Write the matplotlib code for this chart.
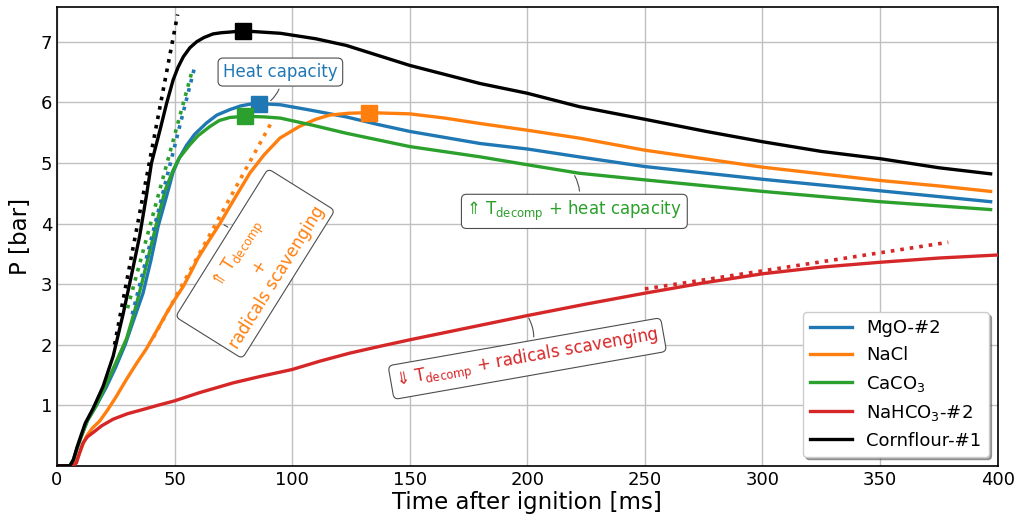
import matplotlib
matplotlib.use("Agg")
import matplotlib.pyplot as plt

# -------------------------------
# DATA
# -------------------------------
t_mgo = [0, 5.5, 7, 8.5, 10, 13, 16.8, 21, 25, 29, 33, 36.6, 40, 43, 46.6, 49.4, 52, 55.1, 58.5,
         63.6, 68, 73.5, 78, 82, 86, 95, 108, 123, 137, 150, 180, 200, 222, 250, 300, 350, 397]
p_mgo = [0, 0, 0.1, 0.28, 0.45, 0.75, 1.0, 1.3, 1.63, 2.0, 2.45, 2.85, 3.4, 3.95, 4.45, 4.85, 5.08, 5.29, 5.47,
         5.66, 5.79, 5.88, 5.94, 5.97, 5.98, 5.96, 5.87, 5.76, 5.63, 5.52, 5.32, 5.23, 5.10, 4.94, 4.73, 4.54,
         4.36]

t_nacl = [0, 6, 7.5, 9, 11, 12.6, 15, 18.2, 21.5, 25, 29.6, 34, 38, 43, 46.6, 50, 53.7, 57, 60, 64, 69.3,
          73.5, 77.8, 82, 88, 94.8, 103, 110, 116, 124, 132.7, 150, 165, 180, 200, 222, 250, 275, 300,
          325, 350, 375, 397]
p_nacl = [0, 0, 0.05, 0.15, 0.35, 0.49, 0.62, 0.74, 0.92, 1.13, 1.43, 1.70, 1.93, 2.27, 2.52, 2.74, 2.96, 3.2,
          3.43, 3.68, 4.0, 4.28, 4.56, 4.83, 5.13, 5.41, 5.6, 5.72, 5.79, 5.82, 5.83, 5.81, 5.74, 5.65, 5.54,
          5.41, 5.21, 5.07, 4.93, 4.82, 4.71, 4.62, 4.53]

t_caco3 = [0, 5.5, 7, 8.5, 10, 13, 16.8, 21, 25, 29.6, 33, 36, 39.5, 43, 46, 49.4, 52, 56.5, 60, 65,
           69, 73.5, 79.9, 88, 95, 102, 109, 123, 150, 180, 200, 222, 250, 300, 350, 397]
p_caco3 = [0, 0, 0.1, 0.28, 0.45, 0.75, 1.0, 1.35, 1.7, 2.1, 2.55, 3.0, 3.55, 4.1, 4.55, 4.88, 5.08, 5.3,
           5.45, 5.6, 5.7, 5.75, 5.77, 5.76, 5.74, 5.68, 5.62, 5.49, 5.27, 5.10, 4.97, 4.83, 4.72, 4.53,
           4.36, 4.23]

t_nahco3 = [0, 7, 8.3, 9.5, 11.1, 13, 15.4, 19, 23.9, 30, 36.6, 43, 49.8, 60.8, 75, 87, 100, 112, 124.5,
            137, 150, 175, 200, 225, 250, 275, 300, 325, 350, 375, 400]
p_nahco3 = [0, 0, 0.05, 0.2, 0.38, 0.48, 0.55, 0.66, 0.77, 0.86, 0.93, 1.0, 1.07, 1.21, 1.37, 1.48, 1.59,
            1.73, 1.86, 1.97, 2.08, 2.28, 2.48, 2.67, 2.85, 3.02, 3.17, 3.28, 3.36, 3.43, 3.48]

t_corn = [0, 5.5, 7, 8.5, 9.7, 12, 15.4, 19.6, 23.9, 28.1, 31.7, 35.2, 38, 40.2, 43.8, 46.6, 49.4, 51.5,
          53.7, 56.5, 59.4, 62.5, 66.4, 70, 73.5, 79, 87, 95, 110, 123, 150, 180, 200, 222, 250, 276, 300,
          325, 350, 375, 397]
p_corn = [0, 0, 0.1, 0.3, 0.44, 0.7, 0.95, 1.31, 1.81, 2.5, 3.15, 3.8, 4.45, 5.0, 5.54, 5.98, 6.37, 6.58,
          6.75, 6.9, 7.0, 7.07, 7.13, 7.15, 7.16, 7.18, 7.16, 7.14, 7.05, 6.94, 6.61, 6.31, 6.15, 5.93, 5.72,
          5.52, 5.35, 5.19, 5.07, 4.92, 4.82]

# peak markers (t, P)
peak_mgo = (86, 5.98)
peak_nacl = (132.7, 5.83)
peak_caco3 = (79.9, 5.77)
peak_corn = (79, 7.18)

# dotted tangent lines (start, end)
tan_mgo = ([32, 58.6], [2.5, 6.59])
tan_nacl = ([41, 90.8], [2.12, 5.64])
tan_caco3 = ([30, 57.2], [2.6, 6.48])
tan_nahco3 = ([250, 379], [2.92, 3.69])
tan_corn = ([24.5, 51.3], [2.0, 7.45])

labels = ['MgO-#2', 'NaCl', 'CaCO$_3$', 'NaHCO$_3$-#2', 'Cornflour-#1']
colors = ['#1f77b4', '#ff7f0e', '#2ca02c', '#d62728', 'black']

# -------------------------------
# PLOT
# -------------------------------
fig, ax = plt.subplots(figsize=(10.17, 5.17), dpi=100)
fig.subplots_adjust(left=0.056, right=0.981, top=0.986, bottom=0.099)

series = [(t_mgo, p_mgo), (t_nacl, p_nacl), (t_caco3, p_caco3), (t_nahco3, p_nahco3), (t_corn, p_corn)]
tangents = [tan_mgo, tan_nacl, tan_caco3, tan_nahco3, tan_corn]
peaks = [peak_mgo, peak_nacl, peak_caco3, None, peak_corn]

for (t, p), lab, c in zip(series, labels, colors):
    ax.plot(t, p, color=c, lw=2.4, label=lab, zorder=3)
for (tx, ty), c in zip(tangents, colors):
    ax.plot(tx, ty, color=c, lw=2.6, ls=':', zorder=4)
for pk, c in zip(peaks, colors):
    if pk is not None:
        ax.plot(pk[0], pk[1], 's', color=c, ms=11, zorder=5)

box = dict(boxstyle='round,pad=0.3', fc='white', ec='0.3', lw=0.8)
arrow = dict(arrowstyle='-', color='0.3', lw=0.8)

ax.annotate('Heat capacity', xy=(90, 6.0), xytext=(95, 6.5), color=colors[0], fontsize=12,
            ha='center', va='center', bbox=box,
            arrowprops=dict(arrow, connectionstyle='arc3,rad=-0.3'), zorder=6)
ax.annotate('⇑ T$_{\\mathrm{decomp}}$ + heat capacity', xy=(219.5, 4.83), xytext=(220, 4.2),
            color=colors[2], fontsize=12, ha='center', va='center', bbox=box,
            arrowprops=dict(arrow, connectionstyle='arc3,rad=0.3'), zorder=6)
ax.annotate('⇓ T$_{\\mathrm{decomp}}$ + radicals scavenging', xy=(200, 2.48), xytext=(200, 1.77),
            color=colors[3], fontsize=12, ha='center', va='center', rotation=10, bbox=box,
            arrowprops=dict(arrow, connectionstyle='arc3,rad=0.3'), zorder=6)
ax.annotate('⇑ T$_{\\mathrm{decomp}}$\n+\nradicals scavenging', xy=(70, 4.0), xytext=(85, 3.32),
            color=colors[1], fontsize=12, ha='center', va='center', rotation=58,
            multialignment='center', bbox=box,
            arrowprops=dict(arrow, connectionstyle='arc3,rad=0.2'), zorder=6)

ax.set_xlim(0, 400)
ax.set_ylim(0, 7.57)
ax.set_yticks([1, 2, 3, 4, 5, 6, 7])
ax.tick_params(labelsize=13, direction='in', length=0)
ax.grid(True, color='#c0c0c0', lw=1)
ax.set_axisbelow(True)
for s in ax.spines.values():
    s.set_linewidth(1.2)
ax.set_xlabel('Time after ignition [ms]', fontsize=16.5, labelpad=2)
ax.set_ylabel('P [bar]', fontsize=16.5, labelpad=6)
ax.legend(loc='lower right', fontsize=13, handlelength=2.3, shadow=True, fancybox=True)

plt.savefig('out.png', dpi=100)
